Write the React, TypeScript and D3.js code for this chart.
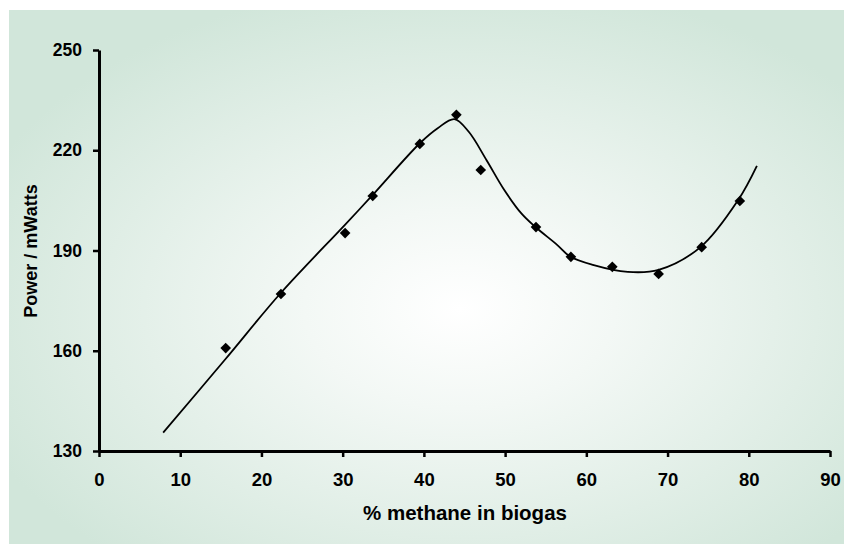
import React, { useEffect, useRef } from 'react'
import * as d3 from 'd3'

// measured points (% methane, power in mW)
const methane = [15.6, 22.4, 30.3, 33.7, 39.5, 44.0, 47.0, 53.8, 58.1, 63.2, 68.9, 74.2, 78.9]
const power = [160.8, 177.0, 195.2, 206.3, 221.9, 230.6, 214.1, 197.0, 188.1, 185.1, 183.0, 191.0, 204.8]

// fitted curve
const fitX = [7.9, 15.5, 22.35, 30.25, 33.5, 39.5, 41.7, 43.75, 45.5, 47.7, 49.9, 52.0, 53.7, 56.4, 58.0, 60.8, 65.1, 68.9, 74.1, 78.7, 81.0]
const fitY = [135.5, 157.3, 177.2, 197.6, 206.1, 222.1, 226.6, 229.3, 225.6, 217.1, 208.1, 201.1, 197.1, 191.7, 188.2, 185.7, 183.6, 184.2, 191.1, 205.1, 215.3]

const xTicks = [0, 10, 20, 30, 40, 50, 60, 70, 80, 90]
const yTicks = [130, 160, 190, 220, 250]

const W = 844
const H = 544

function App() {
  const ref = useRef<SVGSVGElement>(null)

  useEffect(() => {
    const svg = d3.select(ref.current)
    svg.selectAll('*').remove()

    const x = d3.scaleLinear().domain([0, 90]).range([99, 830])
    const y = d3.scaleLinear().domain([130, 250]).range([451, 50])
    const font = 'Liberation Sans, Arial, sans-serif'

    const grad = svg.append('defs').append('radialGradient')
      .attr('id', 'bg').attr('cx', 0.54).attr('cy', 0.56).attr('r', 0.62)
    grad.append('stop').attr('offset', 0).attr('stop-color', '#ffffff')
    grad.append('stop').attr('offset', 0.3).attr('stop-color', '#f3f8f5')
    grad.append('stop').attr('offset', 1).attr('stop-color', '#d1e6da')

    svg.append('rect').attr('width', W).attr('height', H).attr('fill', '#ffffff')
    svg.append('rect').attr('x', 9).attr('y', 10).attr('width', W - 9).attr('height', H - 10)
      .attr('fill', 'url(#bg)')

    // x axis
    const xg = svg.append('g').attr('transform', 'translate(0,451)')
      .call(d3.axisBottom(x).tickValues(xTicks).tickSize(6).tickSizeOuter(0).tickPadding(16))
    xg.select('.domain').attr('stroke-width', 3)
    xg.selectAll('.tick line').attr('stroke-width', 2.5)
    xg.selectAll('.tick text').attr('font-family', font).attr('font-size', 18.5)
      .attr('font-weight', 'bold').attr('fill', '#000')

    // y axis
    const yg = svg.append('g').attr('transform', 'translate(99,0)')
      .call(d3.axisLeft(y).tickValues(yTicks).tickSize(6).tickSizeOuter(0).tickPadding(11))
    yg.select('.domain').attr('stroke-width', 3)
    yg.selectAll('.tick line').attr('stroke-width', 2.5)
    yg.selectAll('.tick text').attr('font-family', font).attr('font-size', 17.5)
      .attr('font-weight', 'bold').attr('fill', '#000')

    svg.append('text').attr('x', 465).attr('y', 520).attr('text-anchor', 'middle')
      .attr('font-family', font).attr('font-size', 20.5).attr('font-weight', 'bold')
      .text('% methane in biogas')

    svg.append('text').attr('transform', 'translate(37,251) rotate(-90)').attr('text-anchor', 'middle')
      .attr('font-family', font).attr('font-size', 18).attr('font-weight', 'bold')
      .text('Power / mWatts')

    // fitted line
    const line = d3.line<number>()
      .x((d, i) => x(fitX[i]))
      .y(d => y(d))
      .curve(d3.curveCatmullRom)
    svg.append('path').datum(fitY).attr('d', line).attr('fill', 'none')
      .attr('stroke', '#000').attr('stroke-width', 1.8)

    // diamonds
    const diamond = d3.symbol().type(d3.symbolDiamond2).size(72)
    svg.selectAll('.pt').data(power).enter().append('path')
      .attr('class', 'pt')
      .attr('d', diamond)
      .attr('transform', (d, i) => 'translate(' + x(methane[i]) + ',' + y(d) + ')')
      .attr('fill', '#000')
  }, [])

  return (
    <div style={{ position: 'absolute', left: 0, top: 0 }}>
      <svg ref={ref} width={W} height={H} style={{ display: 'block' }}></svg>
    </div>
  )
}

export default App
